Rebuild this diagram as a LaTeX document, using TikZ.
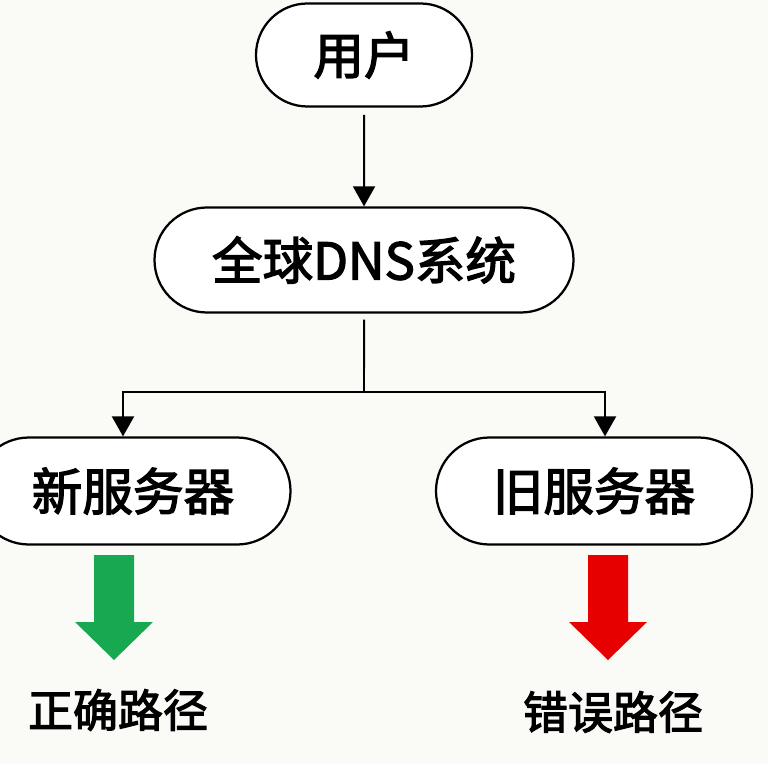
\documentclass[tikz,border=0pt]{standalone}
\usepackage{fontspec}
\setmainfont{Noto Sans CJK SC}
\newfontfamily\cjkmid[FakeBold=2.6]{Noto Sans CJK SC}
\usepackage{xcolor}
\usetikzlibrary{arrows.meta, positioning, shapes.misc}

\definecolor{paper}{RGB}{250,250,247}
\definecolor{okgreen}{RGB}{24,168,82}
\definecolor{badred}{RGB}{230,0,0}

\tikzset{
	pill/.style={rounded rectangle, draw, line width=1.6pt, fill=white,
		font=\fontsize{36}{40}\selectfont\cjkmid, inner sep=0pt},
	link/.style={line width=1.4pt},
	linkarrow/.style={link, -{Triangle[width=0.55cm, length=0.5cm]}},
	pathlabel/.style={font=\fontsize{32}{36}\selectfont\cjkmid}
}

\begin{document}
\begin{tikzpicture}
	
	% 画布与背景
	\useasboundingbox (0, 0) rectangle (19.2, 19.1);
	\fill[paper] (0, 0) rectangle (19.2, 19.1);
	\clip (0, 0) rectangle (19.2, 19.1);
	
	% 用户
	\node[pill, minimum width=5.4cm, minimum height=2.575cm] (user) at (9.1, 17.725) {用户};
	
	% 全球 DNS
	\node[pill, minimum width=10.475cm, minimum height=2.625cm] (dns) at (9.1, 12.6) {全球DNS系统};
	
	% 新旧服务器
	\node[pill, minimum width=7.875cm, minimum height=2.675cm] (newsrv) at (3.325, 6.825) {新服务器};
	\node[pill, minimum width=7.9cm, minimum height=2.675cm] (oldsrv) at (14.85, 6.825) {旧服务器};
	
	% 连线
	\draw[linkarrow, shorten <=0.18cm] (user) -- (dns);
	\coordinate (fork) at (9.1, 9.3);
	\draw[link, shorten <=0.15cm] (dns) -- (fork);
	\draw[linkarrow] (fork) -| ([xshift=-0.25cm]newsrv.north);
	\draw[linkarrow] (fork) -| ([xshift=0.275cm]oldsrv.north);
	
	% 绿色箭头
	\fill[okgreen] (2.35, 5.225) -- (3.35, 5.225) -- (3.35, 3.55) -- (3.825, 3.55)
		-- (2.85, 2.6) -- (1.875, 3.55) -- (2.35, 3.55) -- cycle;
	\node[pathlabel] (okpath) at (2.95, 1.35) {正确路径};
	
	% 红色箭头
	\fill[badred] (14.7, 5.225) -- (15.7, 5.225) -- (15.7, 3.55) -- (16.175, 3.55)
		-- (15.2, 2.6) -- (14.225, 3.55) -- (14.7, 3.55) -- cycle;
	\node[pathlabel] (badpath) at (15.325, 1.3) {错误路径};
	
\end{tikzpicture}
\end{document}
